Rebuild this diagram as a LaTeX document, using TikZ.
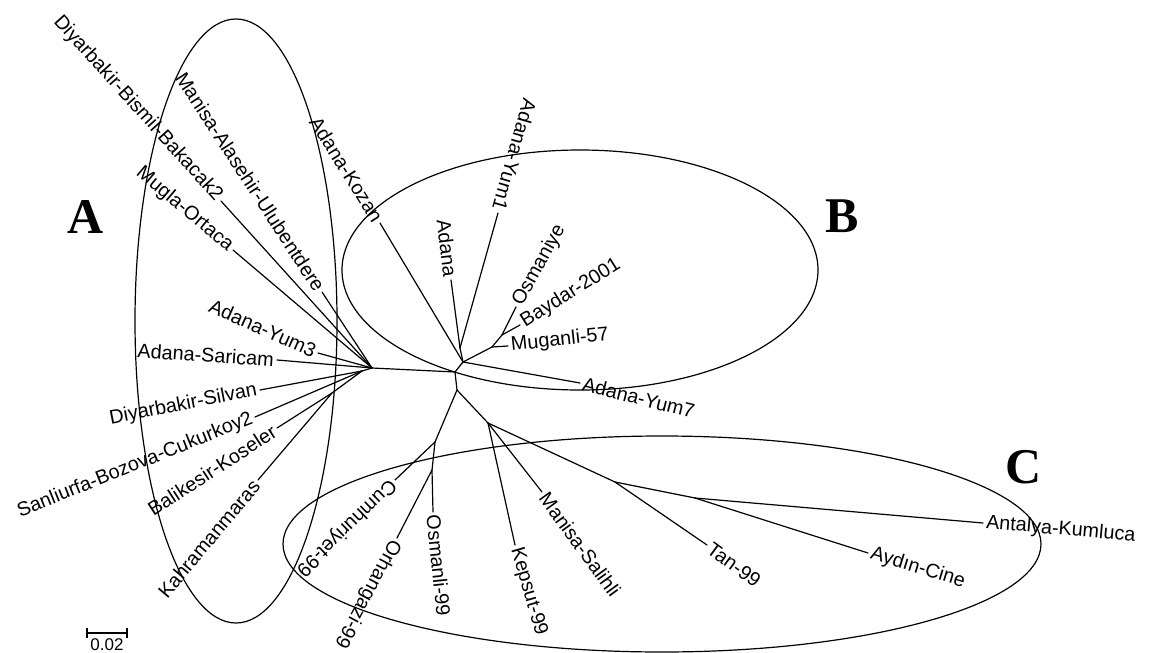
\documentclass[tikz,border=0pt]{standalone}
\usepackage{fontspec}
\setmainfont{Liberation Sans}
\newfontfamily\groupserif{Liberation Serif}
\newcommand\tipfont{\fontsize{19.8}{21}\selectfont}

\begin{document}
\begin{tikzpicture}[x=1pt, y=-1pt,
  branch/.style={line width=1.2pt, line cap=round},
  group/.style={line width=1.2pt},
  tipl/.style={font=\tipfont, anchor=east, inner sep=3pt},
  tipr/.style={font=\tipfont, anchor=west, inner sep=3pt},
  grouplabel/.style={font=\groupserif\bfseries\fontsize{50}{50}\selectfont}]

\useasboundingbox (0,0) rectangle (1151,653);

% ---- cluster outlines --------------------------------------------------------
\draw[group] (236,321) ellipse [x radius=101, y radius=302];
\draw[group] (580,270) ellipse [x radius=238, y radius=120];
\draw[group] (662,544) ellipse [x radius=379, y radius=108];

\node[grouplabel] (grpA) at (86,217)   {A};
\node[grouplabel] (grpB) at (842,216)  {B};
\node[grouplabel] (grpC) at (1024,467) {C};

% ---- internal nodes ----------------------------------------------------------
\coordinate (L)  at (372,368);
\coordinate (Lb) at (362,371);
\coordinate (K)  at (332,393);
\coordinate (M)  at (455,372);
\coordinate (B0) at (463,362);
\coordinate (B1) at (460,348);
\coordinate (B2) at (492,347);
\coordinate (B3) at (502,335);
\coordinate (C0) at (457,390);
\coordinate (C1) at (435,442);
\coordinate (C5) at (432,470);
\coordinate (C2) at (488,423);
\coordinate (C3) at (615,482);
\coordinate (C4) at (695,498);

% ---- group A (labels read towards the tip) -----------------------------------
\coordinate (tBismil)    at (221,201);
\coordinate (tAlasehir)  at (322,292);
\coordinate (tMugla)     at (233,250);
\coordinate (tYum3)      at (318,353);
\coordinate (tSaricam)   at (277,360);
\coordinate (tSilvan)    at (260,390);
\coordinate (tSanliurfa) at (255,417);
\coordinate (tBalikesir) at (277,428);
\coordinate (tKahraman)  at (258,480);

\node[tipl, rotate=-48] (lBismil)    at (tBismil)    {Diyarbakir-Bismil-Bakacak2};
\node[tipl, rotate=-57] (lAlasehir)  at (tAlasehir)  {Manisa-Alasehir-Ulubentdere};
\node[tipl, rotate=-40] (lMugla)     at (tMugla)     {Mugla-Ortaca};
\node[tipl, rotate=-24] (lYum3)      at (tYum3)      {Adana-Yum3};
\node[tipl, rotate=-4]  (lSaricam)   at (tSaricam)   {Adana-Saricam};
\node[tipl, rotate=11]  (lSilvan)    at (tSilvan)    {Diyarbakir-Silvan};
\node[tipl, rotate=22]  (lSanliurfa) at (tSanliurfa) {Sanliurfa-Bozova-Cukurkoy2};
\node[tipl, rotate=33]  (lBalikesir) at (tBalikesir) {Balikesir-Koseler};
\node[tipl, rotate=50]  (lKahraman)  at (tKahraman)  {Kahramanmaras};

% ---- group B -----------------------------------------------------------------
\coordinate (tKozan)    at (380,223);
\coordinate (tAdana)    at (451,280);
\coordinate (tYum1)     at (498,213);
\coordinate (tOsmaniye) at (516,307);
\coordinate (tBaydar)   at (520,325);
\coordinate (tMuganli)  at (508,346);
\coordinate (tYum7)     at (580,383);

\node[tipl, rotate=-58]  (lKozan)    at (tKozan)    {Adana-Kozan};
\node[tipl, rotate=-83]  (lAdana)    at (tAdana)    {Adana};
\node[tipl, rotate=-106] (lYum1)     at (tYum1)     {Adana-Yum1};
\node[tipr, rotate=61]   (lOsmaniye) at (tOsmaniye) {Osmaniye};
\node[tipr, rotate=32]   (lBaydar)   at (tBaydar)   {Baydar-2001};
\node[tipr, rotate=6]    (lMuganli)  at (tMuganli)  {Muganli-57};
\node[tipr, rotate=-14]  (lYum7)     at (tYum7)     {Adana-Yum7};

% ---- group C -----------------------------------------------------------------
\coordinate (tCumhuriyet) at (395,480);
\coordinate (tOrhangazi)  at (397,538);
\coordinate (tOsmanli)    at (433,512);
\coordinate (tKepsut)     at (515,545);
\coordinate (tSalihli)    at (542,492);
\coordinate (tTan)        at (707,545);
\coordinate (tAydin)      at (868,553);
\coordinate (tAntalya)    at (983,523);

\node[tipr, rotate=-136] (lCumhuriyet) at (tCumhuriyet) {Cumhuriyet-99};
\node[tipr, rotate=-118] (lOrhangazi)  at (tOrhangazi)  {Orhangazi-99};
\node[tipr, rotate=-84]  (lOsmanli)    at (tOsmanli)    {Osmanli-99};
\node[tipr, rotate=-74]  (lKepsut)     at (tKepsut)     {Kepsut-99};
\node[tipr, rotate=-54]  (lSalihli)    at (tSalihli)    {Manisa-Salihli};
\node[tipr, rotate=-36]  (lTan)        at (tTan)        {Tan-99};
\node[tipr, rotate=-17]  (lAydin)      at (tAydin)      {Aydın-Cine};
\node[tipr, rotate=-5]   (lAntalya)    at (tAntalya)    {Antalya-Kumluca};

% ---- branches ----------------------------------------------------------------
\foreach \a/\b in {L/M, L/Lb, Lb/K, M/B0, B0/B1, B0/B2, B2/B3, M/C0, C0/C1,
                   C1/C5, C0/C2, C2/C3, C3/C4,
                   L/tBismil, L/tAlasehir, L/tMugla, L/tYum3, L/tSaricam,
                   Lb/tSilvan, Lb/tSanliurfa, K/tBalikesir, K/tKahraman,
                   B0/tKozan, B1/tAdana, B1/tYum1, B3/tOsmaniye, B3/tBaydar,
                   B2/tMuganli, B0/tYum7,
                   C1/tCumhuriyet, C5/tOrhangazi, C5/tOsmanli, C2/tKepsut,
                   C2/tSalihli, C3/tTan, C4/tAydin, C4/tAntalya}
  \draw[branch] (\a) -- (\b);

% ---- scale bar ---------------------------------------------------------------
\coordinate (sb0) at (87,633);
\coordinate (sb1) at (127,633);
\draw[line width=1.2pt] (sb0) -- (sb1);
\draw[line width=1.2pt] ([yshift=-5pt]sb0) -- ([yshift=5pt]sb0);
\draw[line width=1.2pt] ([yshift=-5pt]sb1) -- ([yshift=5pt]sb1);
\node[font=\fontsize{17}{17}\selectfont, anchor=north, inner sep=1pt] (sbl) at (107,637) {0.02};

\end{tikzpicture}
\end{document}
